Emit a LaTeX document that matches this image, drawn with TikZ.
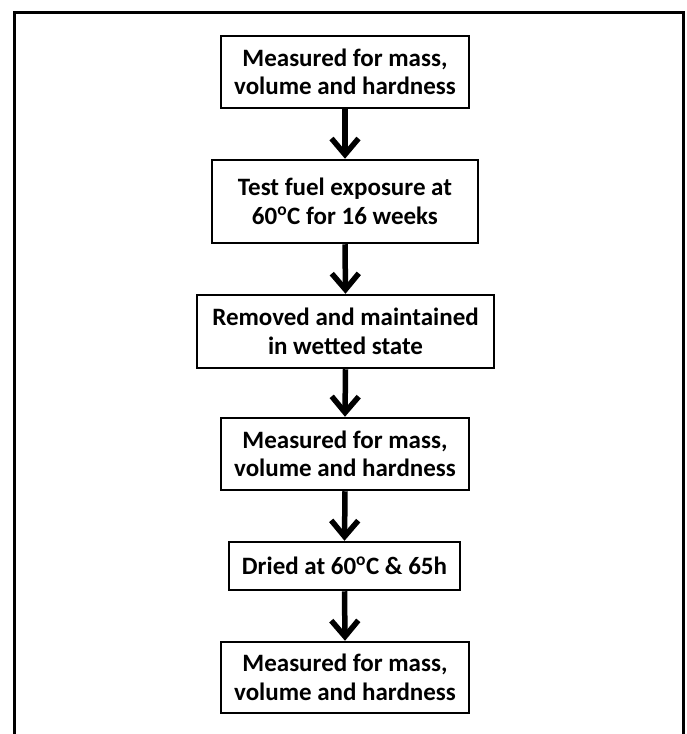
\documentclass[tikz,border=0pt]{standalone}
\usepackage{fontspec}
\setmainfont{Carlito}
\usetikzlibrary{arrows.meta}
\begin{document}
\begin{tikzpicture}[x=1pt,y=-1pt,
  box/.style={draw, line width=2.5pt, align=center, inner sep=0pt,
    font=\bfseries\fontsize{25}{28.5}\selectfont},
  flow/.style={line width=5.5pt, -{Straight Barb[length=16pt,width=27pt,line width=5.5pt]}}]
\useasboundingbox (0,0) rectangle (686,734);
\draw[line width=3pt] (14,734) -- (14,12) -- (683,12) -- (683,734);
\node[box, minimum width=248pt, minimum height=72pt] (b1) at (345,72) {Measured for mass,\\volume and hardness};
\node[box, minimum width=266pt, minimum height=83pt] (b2) at (345,201.5) {Test fuel exposure at\\60\textsuperscript{o}C for 16 weeks};
\node[box, minimum width=297pt, minimum height=73pt] (b3) at (345.5,331.5) {Removed and maintained\\in wetted state};
\node[box, minimum width=248pt, minimum height=72pt] (b4) at (345,454) {Measured for mass,\\volume and hardness};
\node[box, minimum width=231pt, minimum height=48pt] (b5) at (344.5,566) {Dried at 60\textsuperscript{o}C \& 65h};
\node[box, minimum width=248pt, minimum height=71pt] (b6) at (345,677.5) {Measured for mass,\\volume and hardness};
\draw[flow] (b1.south) -- (b2.north);
\draw[flow] (b2.south) -- (b3.north);
\draw[flow] (b3.south) -- (b4.north);
\draw[flow] (b4.south) -- (b5.north);
\draw[flow] (b5.south) -- (b6.north);
\end{tikzpicture}
\end{document}
